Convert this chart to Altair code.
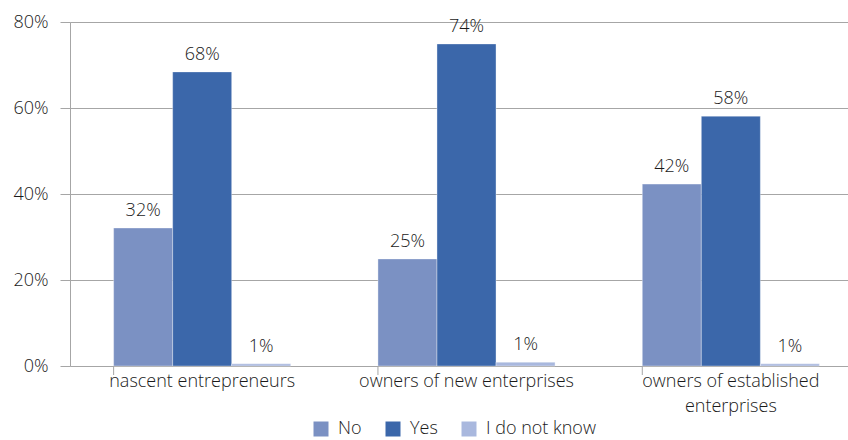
import altair as alt
import pandas as pd

categories = ["nascent entrepreneurs", "owners of new enterprises", "owners of established enterprises"]
series = ["No", "Yes", "I do not know"]
no_vals = [32.1, 24.9, 42.3]
yes_vals = [68.4, 74.9, 58.1]
idk_vals = [0.5, 0.9, 0.5]
no_labels = ["32%", "25%", "42%"]
yes_labels = ["68%", "74%", "58%"]
idk_labels = ["1%", "1%", "1%"]
colors = ["#7b91c3", "#3b67aa", "#a9b8de"]

rows = []
for s, vals, labs in [("No", no_vals, no_labels), ("Yes", yes_vals, yes_labels), ("I do not know", idk_vals, idk_labels)]:
    for c, v, l in zip(categories, vals, labs):
        rows.append({"category": c, "series": s, "value": v, "label": l})
df = pd.DataFrame(rows)

FONT = "Open Sans"
FW = 300
FS = 18
TXT = "#1a1a1a"
GRID = "#a6a6a6"

xscale = alt.Scale(domain=categories, range=[0, 793], paddingInner=0.33, paddingOuter=0.165)
yscale = alt.Scale(domain=[0, 80], nice=False)

base = alt.Chart(df)

bars = base.mark_bar(stroke="white", strokeWidth=0.6, strokeOpacity=0.6).encode(
    x=alt.X("category:N", scale=xscale, sort=categories,
            axis=alt.Axis(title=None, labelAngle=0, ticks=False, domain=False,
                          labelFont=FONT, labelFontSize=FS, labelFontWeight=FW, labelColor=TXT,
                          labelPadding=6, labelLineHeight=25, labelLimit=400,
                          labelExpr="datum.label == 'owners of established enterprises' ? ['owners of established', 'enterprises'] : datum.label")),
    xOffset=alt.XOffset("series:N", sort=series, scale=alt.Scale(paddingInner=0, paddingOuter=0)),
    y=alt.Y("value:Q", scale=yscale,
            axis=alt.Axis(title=None, values=[0, 20, 40, 60, 80], labelExpr="datum.value + '%'",
                          grid=True, gridColor=GRID, gridWidth=1,
                          domain=True, domainColor=GRID, tickColor=GRID, tickSize=10,
                          labelFont=FONT, labelFontSize=FS, labelFontWeight=FW, labelColor=TXT,
                          labelPadding=12)),
    color=alt.Color("series:N", sort=series, scale=alt.Scale(domain=series, range=colors),
                    legend=alt.Legend(title=None, orient="none", legendX=242, legendY=398,
                                      direction="horizontal", symbolType="square", symbolSize=225,
                                      symbolStrokeWidth=0, labelFont=FONT, labelFontSize=FS,
                                      labelFontWeight=FW, labelColor=TXT, columnPadding=22,
                                      labelOffset=8)),
)

labels = base.mark_text(baseline="bottom", dy=-8, font=FONT, fontSize=FS, fontWeight=FW, color=TXT).encode(
    x=alt.X("category:N", scale=xscale, sort=categories),
    xOffset=alt.XOffset("series:N", sort=series),
    y=alt.Y("value:Q", scale=yscale),
    text="label:N",
)

ticks = alt.Chart(pd.DataFrame({"category": categories})).mark_rule(color=GRID, strokeWidth=1).encode(
    x=alt.X("category:N", scale=xscale, sort=categories, bandPosition=0),
    y=alt.value(344),
    y2=alt.value(353),
)

chart = alt.layer(bars, labels, ticks).properties(
    width=778, height=344,
    padding={"left": 70, "top": 22, "right": 0, "bottom": 74},
    autosize=alt.AutoSizeParams(type="none"),
).configure_view(stroke=None).configure(background="white")

chart.save("out.html", embed_options={"renderer": "svg", "actions": False})
